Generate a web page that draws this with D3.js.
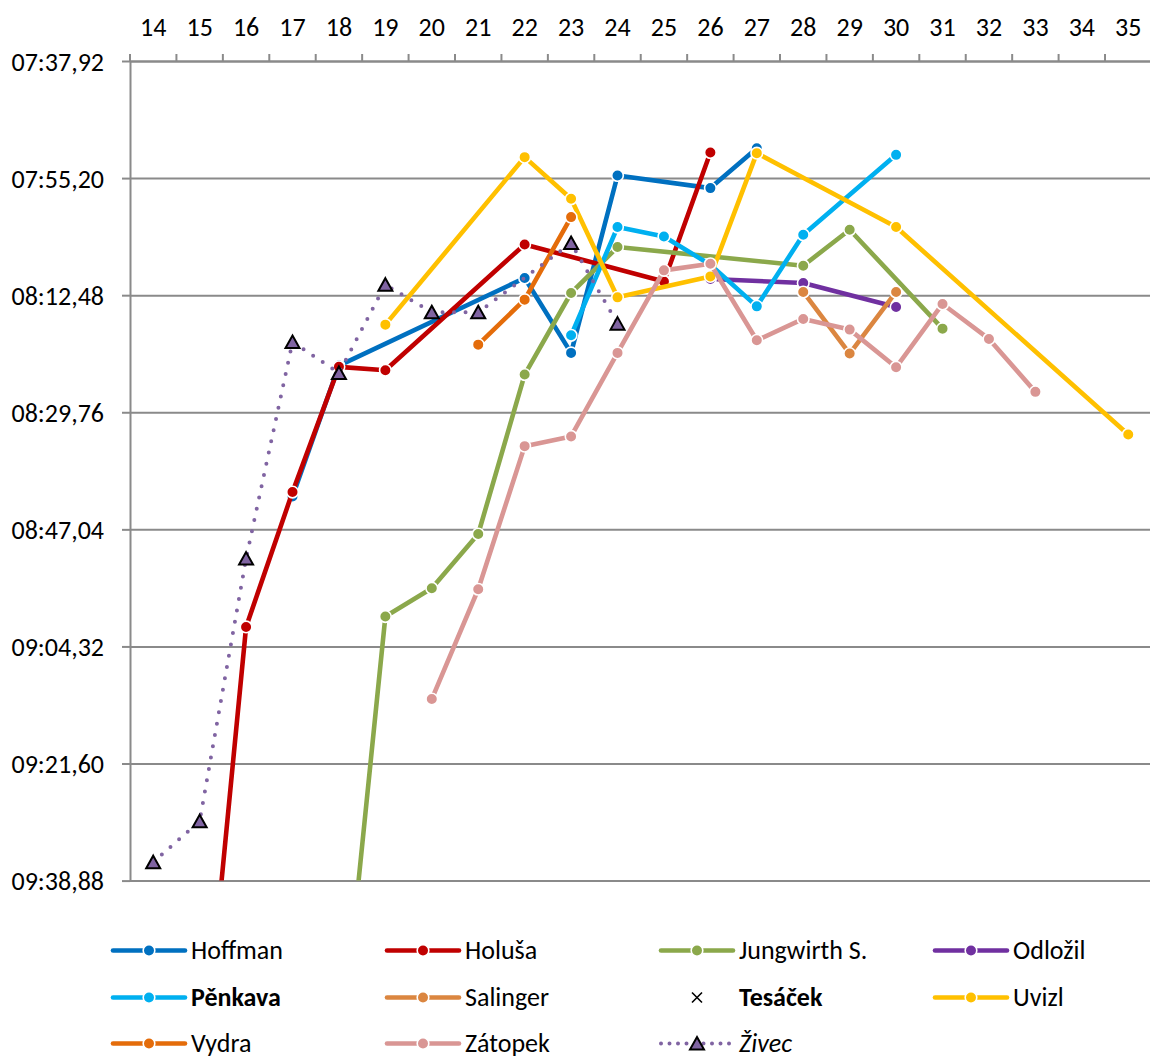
<!DOCTYPE html>
<html>
<head>
<meta charset="utf-8">
<script src="https://cdn.jsdelivr.net/npm/d3@7"></script>
<style>
  body { margin: 0; background: #fff; }
  svg text { font-family: Carlito, Calibri, Lato, sans-serif; fill: #000; }
</style>
</head>
<body>
<svg id="chart" width="1150" height="1059"></svg>
<script>
// Age of the runner (x categories)
const ages = [14, 15, 16, 17, 18, 19, 20, 21, 22, 23, 24, 25, 26, 27, 28, 29, 30, 31, 32, 33, 34, 35];

// Y-axis ticks in seconds (07:37,92 ... 09:38,88, step 17,28 s)
const yTicks = [457.92, 475.20, 492.48, 509.76, 527.04, 544.32, 561.60, 578.88];

// Best times per age, in seconds; null = no result that year
const _ = null;
const hoffman   = [_, _, _, 522.18, 502.87, _, _, _, 489.95, 501.00, 474.82, _, 476.68, 470.79, _, _, _, _, _, _, _, _];
const holusa    = [_, 612.40, 541.44, 521.54, 503.06, 503.56, _, _, 484.99, _, _, 490.45, 471.43, _, _, _, _, _, _, _, _, _];
const jungwirth = [_, _, _, _, 607.50, 539.91, 535.73, 527.73, 504.20, 492.16, 485.38, _, _, _, 488.13, 482.83, _, 497.42, _, _, _, _];
const odlozil   = [_, _, _, _, _, _, _, _, _, _, _, _, 490.09, _, 490.68, _, 494.22, _, _, _, _, _];
const penkava   = [_, _, _, _, _, _, _, _, _, 498.40, 482.43, 483.81, 488.00, 494.13, 483.56, _, 471.77, _, _, _, _, _];
const salinger  = [_, _, _, _, _, _, _, _, _, _, _, _, _, _, 492.01, 501.10, 492.01, _, _, _, _, _];
const tesacek   = [_, _, _, _, _, _, _, _, _, _, _, _, _, _, _, _, _, _, _, _, _, _];
const uvizl     = [_, _, _, _, _, 496.83, _, _, 472.11, 478.26, 492.80, _, 489.71, 471.52, _, _, 482.43, _, _, _, _, 513.04];
const vydra     = [_, _, _, _, _, _, _, 499.78, 493.14, 480.96, _, _, _, _, _, _, _, _, _, _, _, _];
const zatopek   = [_, _, _, _, _, _, 552.09, 535.88, 514.76, 513.33, 501.00, 488.82, 487.84, 499.14, 495.99, 497.56, 503.12, 493.78, 498.94, 506.75, _, _];
const zivec     = [576.16, 570.12, 531.36, 499.38, 503.95, 490.93, 495.01, 495.01, _, 484.79, 496.68, _, _, _, _, _, _, _, _, _, _, _];

const seriesNames = ["Hoffman", "Holuša", "Jungwirth S.", "Odložil", "Pěnkava", "Salinger", "Tesáček", "Uvizl", "Vydra", "Zátopek", "Živec"];
const seriesValues = [hoffman, holusa, jungwirth, odlozil, penkava, salinger, tesacek, uvizl, vydra, zatopek, zivec];
const seriesColors = ["#0070C0", "#C00000", "#8BA84B", "#7030A0", "#00B0F0", "#DB8640", "#000000", "#FFC000", "#E46C0A", "#D99694", "#8064A2"];

const series = seriesNames.map((name, i) => ({
  name,
  color: seriesColors[i],
  marker: name === "Živec" ? "triangle" : name === "Tesáček" ? "cross" : "circle",
  dotted: name === "Živec",
  weight: (name === "Pěnkava" || name === "Tesáček") ? "bold" : "normal",
  style: name === "Živec" ? "italic" : "normal",
  points: ages.map((a, j) => ({ age: a, v: seriesValues[i][j] })).filter(d => d.v != null)
}));

const svg = d3.select("#chart");
const plotLeft = 130, plotTop = 61, bandW = 46.43;
const plotRight = plotLeft + ages.length * bandW, plotBottom = 880.6;
const fontSize = 26;
const markerR = 5.8;

const x = d3.scaleBand().domain(ages).range([plotLeft, plotRight]).padding(0);
const cx = a => x(a) + x.bandwidth() / 2;
const y = d3.scaleLinear().domain([yTicks[0], yTicks[yTicks.length - 1]]).range([plotTop, plotBottom]);

const fmt = s => {
  const m = Math.floor(s / 60);
  const sec = s - m * 60;
  const whole = Math.floor(sec + 1e-6);
  const frac = Math.round((sec - whole) * 100);
  return String(m).padStart(2, "0") + ":" + String(whole).padStart(2, "0") + "," + String(frac).padStart(2, "0");
};

const gridColor = "#8a8a8a";

// horizontal gridlines
svg.append("g")
  .attr("transform", `translate(${plotLeft},0)`)
  .call(d3.axisLeft(y).tickValues(yTicks).tickSize(-(plotRight - plotLeft)).tickFormat(""))
  .call(g => g.select(".domain").remove())
  .call(g => g.selectAll("line").attr("stroke", gridColor).attr("stroke-width", 2));

// y axis with outside ticks and labels
svg.append("g")
  .attr("transform", `translate(${plotLeft},0)`)
  .call(d3.axisLeft(y).tickValues(yTicks).tickSize(8).tickSizeOuter(0).tickPadding(18).tickFormat(fmt))
  .call(g => g.select(".domain").attr("stroke", gridColor).attr("stroke-width", 2))
  .call(g => g.selectAll("line").attr("stroke", gridColor).attr("stroke-width", 2))
  .call(g => g.selectAll("text").attr("font-size", fontSize).attr("dy", "0.35em"));

// x axis on top: labels at category centres, ticks between categories
svg.append("g")
  .attr("transform", `translate(0,${plotTop})`)
  .call(d3.axisTop(x).tickSize(0).tickPadding(25))
  .call(g => g.select(".domain").attr("stroke", gridColor).attr("stroke-width", 2))
  .call(g => g.selectAll("text").attr("font-size", fontSize));

svg.append("g")
  .selectAll("line")
  .data(ages.map(a => x(a)).concat([plotRight]))
  .join("line")
  .attr("x1", d => d).attr("x2", d => d)
  .attr("y1", plotTop - 7).attr("y2", plotTop)
  .attr("stroke", gridColor).attr("stroke-width", 2);

// plot clip
svg.append("clipPath").attr("id", "plotClip")
  .append("rect").attr("x", plotLeft).attr("y", plotTop - 8)
  .attr("width", plotRight - plotLeft).attr("height", plotBottom - plotTop + 8);

const plot = svg.append("g").attr("clip-path", "url(#plotClip)");
const line = d3.line().x(d => cx(d.age)).y(d => y(d.v));
const triPath = "M0,-6.5 L7,6 L-7,6 Z";

series.forEach(s => {
  if (s.points.length === 0) return;
  const g = plot.append("g");
  const path = g.append("path")
    .datum(s.points)
    .attr("d", line)
    .attr("fill", "none")
    .attr("stroke", s.color)
    .attr("stroke-linejoin", "round");
  if (s.dotted) {
    path.attr("stroke-width", 4).attr("stroke-dasharray", "0 11.5").attr("stroke-linecap", "round");
  } else {
    path.attr("stroke-width", 4.6).attr("stroke-linecap", "round");
  }
  if (s.marker === "circle") {
    g.selectAll("circle").data(s.points).join("circle")
      .attr("cx", d => cx(d.age)).attr("cy", d => y(d.v)).attr("r", markerR)
      .attr("fill", s.color).attr("stroke", "#fff").attr("stroke-width", 1.6);
  } else if (s.marker === "triangle") {
    g.selectAll("path.m").data(s.points).join("path").attr("class", "m")
      .attr("transform", d => `translate(${cx(d.age)},${y(d.v)})`)
      .attr("d", triPath)
      .attr("fill", s.color).attr("stroke", "#000").attr("stroke-width", 2).attr("stroke-linejoin", "miter");
  }
});

// legend
const legCols = [113, 387, 661, 935];
const legRows = [959, 1006, 1052];
const legend = svg.append("g");
series.forEach((s, i) => {
  const x0 = legCols[i % 4], base = legRows[Math.floor(i / 4)], ly = base - 8.5;
  const g = legend.append("g");
  if (s.marker === "circle") {
    g.append("line").attr("x1", x0).attr("x2", x0 + 72).attr("y1", ly).attr("y2", ly)
      .attr("stroke", s.color).attr("stroke-width", 4.6).attr("stroke-linecap", "round");
    g.append("circle").attr("cx", x0 + 36).attr("cy", ly).attr("r", markerR)
      .attr("fill", s.color).attr("stroke", "#fff").attr("stroke-width", 1.6);
  } else if (s.marker === "triangle") {
    g.append("line").attr("x1", x0).attr("x2", x0 + 72).attr("y1", ly).attr("y2", ly)
      .attr("stroke", s.color).attr("stroke-width", 4).attr("stroke-dasharray", "0 8.5").attr("stroke-linecap", "round");
    g.append("path").attr("transform", `translate(${x0 + 36},${ly})`).attr("d", triPath)
      .attr("fill", s.color).attr("stroke", "#000").attr("stroke-width", 2);
  } else {
    const c = x0 + 36, r = 5;
    g.append("path").attr("d", `M${c - r},${ly - r}L${c + r},${ly + r}M${c - r},${ly + r}L${c + r},${ly - r}`)
      .attr("stroke", "#000").attr("stroke-width", 1.6);
  }
  g.append("text").attr("x", x0 + 78).attr("y", base)
    .attr("font-size", fontSize).attr("font-weight", s.weight).attr("font-style", s.style)
    .text(s.name);
});
</script>
</body>
</html>
